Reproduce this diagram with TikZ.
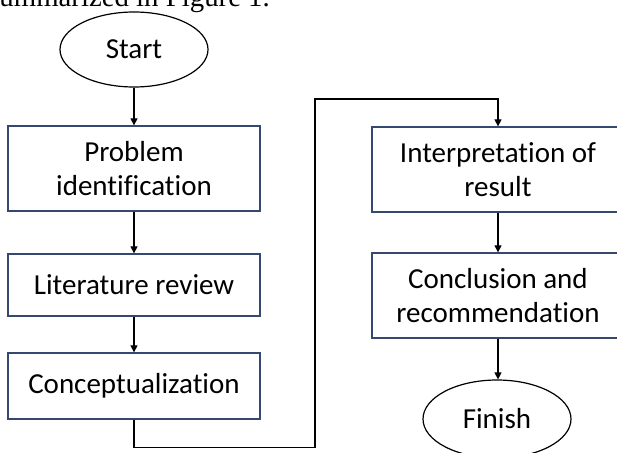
\documentclass[tikz,border=0pt]{standalone}
\usepackage{fontspec}
\setmainfont{Carlito}[Ligatures=NoCommon]
\newfontfamily\capfont{Liberation Serif}
\usetikzlibrary{shapes.geometric,arrows.meta}
\definecolor{boxline}{RGB}{52,72,112}
\tikzset{
  boxnode/.style={draw=boxline,line width=1.3pt,rectangle,minimum width=252pt,inner sep=0pt,align=center,
    font=\fontsize{29}{34.3}\selectfont},
  ovalnode/.style={draw=black,line width=1.2pt,ellipse,inner sep=0pt,minimum width=148pt,align=center,
    font=\fontsize{29}{34.3}\selectfont},
  arr/.style={draw=black,line width=1.2pt,-{Triangle[width=7pt,length=7pt]}}
}
\begin{document}
\begin{tikzpicture}[x=1pt,y=1pt]
\clip (0,0) rectangle (617,-452);
\fill[white] (0,0) rectangle (617,-452);
\node[anchor=base east,inner sep=0pt,font=\capfont\fontsize{28.8}{34}\selectfont] (cap) at (270,-7) {ummarized in Figure 1.};
\node[ovalnode,minimum height=75pt] (start) at (134,-49.5) {Start};
\node[boxnode,minimum height=85pt] (p1) at (134,-168.5) {Problem\\identification};
\node[boxnode,minimum height=62pt] (p2) at (134,-285) {Literature review};
\node[boxnode,minimum height=66pt] (p3) at (134,-386) {Conceptualization};
\node[boxnode,minimum height=85pt] (p4) at (498,-169.5) {Interpretation of\\result};
\node[boxnode,minimum height=85pt] (p5) at (498,-295.5) {Conclusion and\\recommendation};
\node[ovalnode,minimum height=78pt] (fin) at (497,-419) {Finish};
\coordinate (turn) at (315,-99);
\draw[arr] (start) -- (p1);
\draw[arr] (p1) -- (p2);
\draw[arr] (p2) -- (p3);
\draw[arr] (p3.south) -- ++(0,-28) -| (turn) -| (p4.north);
\draw[arr] (p4) -- (p5);
\draw[arr] (p5.south) -- (p5.south |- fin.north);
\end{tikzpicture}
\end{document}
